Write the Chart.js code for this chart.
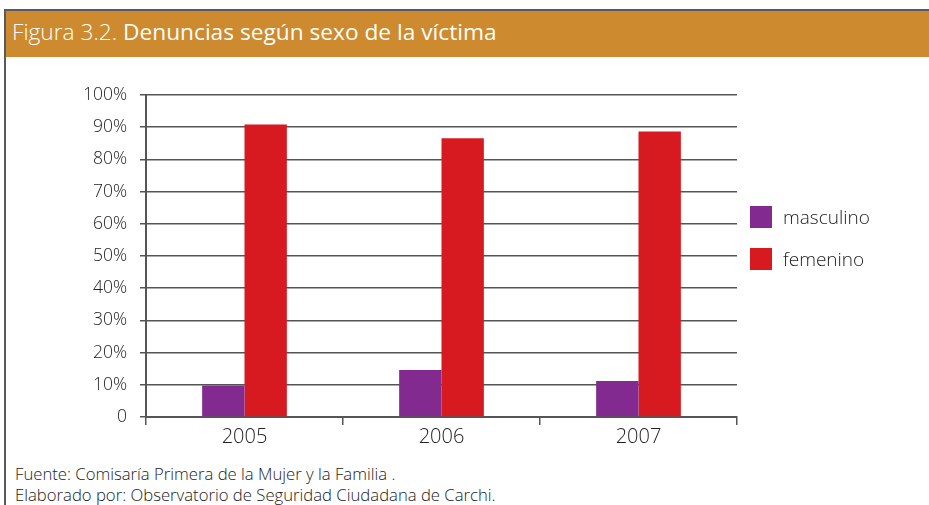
<!DOCTYPE html>
<html lang="es">
<head>
<meta charset="UTF-8">
<script src="https://cdn.jsdelivr.net/npm/chart.js"></script>
<title>Figura 3.2</title>
<style>
  body { margin: 0; width: 929px; height: 505px; background: #fff; font-family: 'Open Sans', sans-serif; position: relative; overflow: hidden; }
  #frame { position: absolute; left: 4px; top: 9px; width: 925px; height: 500px; border-left: 2px solid #5a5a5a; border-top: 2px solid #5a5a5a; }
  #band { position: absolute; left: 6px; top: 11px; width: 923px; height: 46px; background: #CE8A2E; color: #fff; font-size: 22.7px; line-height: 42px; padding-left: 6px; box-sizing: border-box; }
  #band .light { font-weight: 300; }
  #band .bold { font-weight: 500; }
  #wrap { position: absolute; left: 0; top: 60px; width: 929px; height: 400px; }
  #legend { position: absolute; left: 750px; top: 196px; font-size: 19px; font-weight: 300; color: #222; }
  #legend div { height: 42px; display: flex; align-items: center; }
  #legend span.sw { width: 22px; height: 22px; margin-right: 11px; display: inline-block; }
  #foot { position: absolute; left: 15px; top: 463px; font-size: 16.7px; font-weight: 300; color: #222; line-height: 21px; }
</style>
</head>
<body>
<div id="frame"></div>
<div id="band"><span class="light">Figura 3.2.</span> <span class="bold">Denuncias según sexo de la víctima</span></div>
<div id="wrap"><canvas id="chart"></canvas></div>
<div id="legend"></div>
<div id="foot">Fuente: Comisaría Primera de la Mujer y la Familia .<br>Elaborado por: Observatorio de Seguridad Ciudadana de Carchi.</div>
<script>
  const years = ['2005', '2006', '2007'];
  const masculino = [9.8, 14.6, 11.2];
  const femenino = [90.8, 86.6, 88.7];
  const seriesNames = ['masculino', 'femenino'];
  const seriesColors = ['#832A91', '#D71920'];
  const yTicks = [0, 10, 20, 30, 40, 50, 60, 70, 80, 90, 100];

  // legend drawn beside the chart
  const leg = document.getElementById('legend');
  seriesNames.forEach((n, i) => {
    const row = document.createElement('div');
    row.innerHTML = '<span class="sw" style="background:' + seriesColors[i] + '"></span>' + n;
    leg.appendChild(row);
  });

  const lineColor = '#555555';

  new Chart(document.getElementById('chart'), {
    type: 'bar',
    data: {
      labels: years,
      datasets: [
        { label: seriesNames[0], data: masculino, backgroundColor: seriesColors[0] },
        { label: seriesNames[1], data: femenino, backgroundColor: seriesColors[1] }
      ]
    },
    options: {
      responsive: true,
      maintainAspectRatio: false,
      animation: false,
      events: [],
      layout: { padding: { left: 40, right: 192, top: 35, bottom: 0 } },
      datasets: { bar: { categoryPercentage: 0.43, barPercentage: 1.0 } },
      plugins: { legend: { display: false }, tooltip: { enabled: false } },
      scales: {
        x: {
          grid: { offset: true, drawOnChartArea: false, color: lineColor, lineWidth: 1.5, tickLength: 8 },
          border: { color: lineColor, width: 2 },
          ticks: { color: '#222', font: { family: 'Open Sans', size: 20, weight: 300 }, padding: 0 },
          afterFit: s => { s.height = 43; }
        },
        y: {
          min: 0, max: 100,
          afterBuildTicks: s => { s.ticks = yTicks.map(v => ({ value: v })); },
          grid: { color: lineColor, lineWidth: 1.5, tickLength: 6 },
          border: { color: lineColor, width: 2 },
          ticks: {
            color: '#222', font: { family: 'Open Sans', size: 17.5, weight: 300 }, padding: 13,
            callback: v => v === 0 ? '0' : v + '%'
          },
          afterFit: s => { s.width = 106; }
        }
      }
    }
  });
</script>
</body>
</html>
